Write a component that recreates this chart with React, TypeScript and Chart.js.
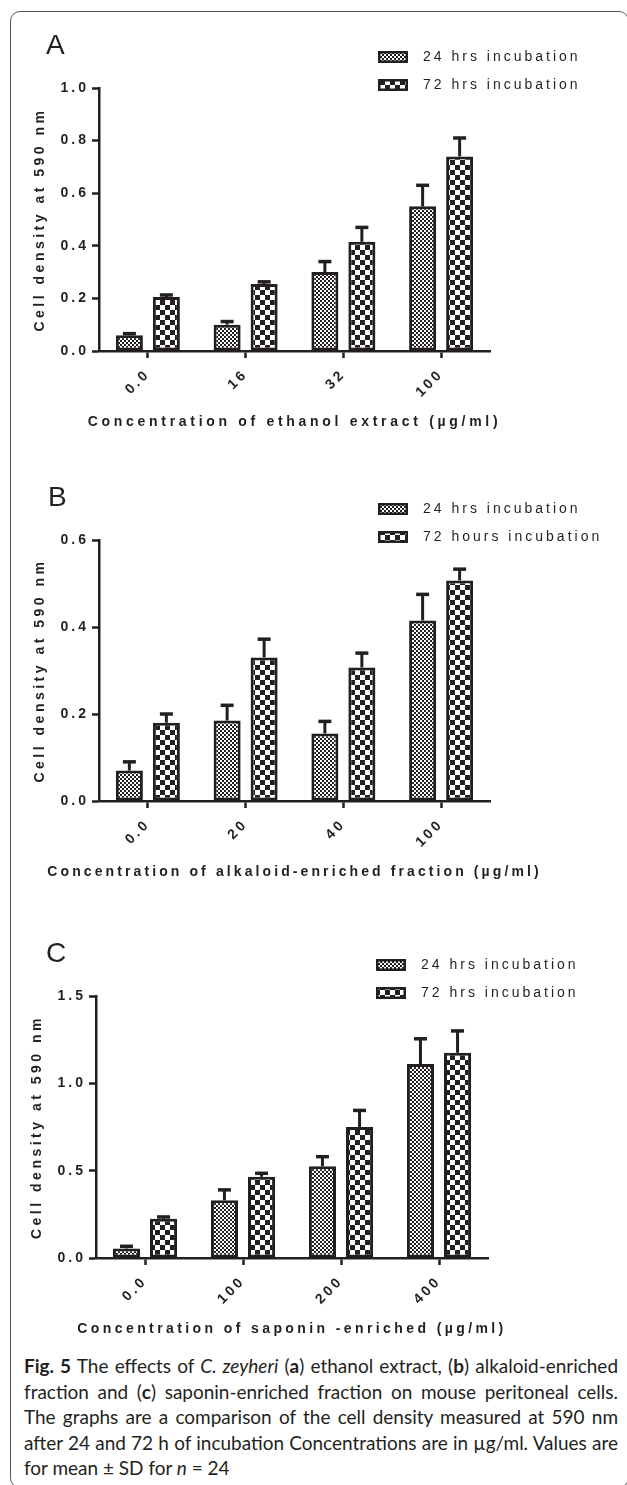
import React, { useEffect, useLayoutEffect, useRef } from 'react';
import { Chart, registerables } from 'chart.js';

Chart.register(...registerables);

// ---------- data ----------
// Panel A: ethanol extract
const catsA = ['0.0', '16', '32', '100'];
const a24 = [0.06, 0.10, 0.30, 0.55];
const a24sd = [0.006, 0.012, 0.04, 0.08];
const a72 = [0.205, 0.255, 0.415, 0.74];
const a72sd = [0.008, 0.008, 0.055, 0.07];
const legendA = ['24 hrs incubation', '72 hrs incubation'];
const yMaxA = 1.0;
const yStepA = 0.2;

// Panel B: alkaloid-enriched fraction
const catsB = ['0.0', '20', '40', '100'];
const b24 = [0.07, 0.185, 0.155, 0.415];
const b24sd = [0.02, 0.035, 0.028, 0.06];
const b72 = [0.18, 0.33, 0.307, 0.507];
const b72sd = [0.02, 0.042, 0.033, 0.026];
const legendB = ['24 hrs incubation', '72 hours incubation'];
const yMaxB = 0.6;
const yStepB = 0.2;

// Panel C: saponin-enriched fraction
const catsC = ['0.0', '100', '200', '400'];
const c24 = [0.055, 0.33, 0.525, 1.11];
const c24sd = [0.012, 0.06, 0.055, 0.145];
const c72 = [0.225, 0.465, 0.75, 1.175];
const c72sd = [0.01, 0.02, 0.095, 0.125];
const legendC = ['24 hrs incubation', '72 hrs incubation'];
const yMaxC = 1.5;
const yStepC = 0.5;

const yTitle = 'Cell density at 590 nm';
const xTitleA = 'Concentration of ethanol extract (\u00b5g/ml)';
const xTitleB = 'Concentration of alkaloid-enriched fraction (\u00b5g/ml)';
const xTitleC = 'Concentration of saponin -enriched (\u00b5g/ml)';

// ---------- style ----------
const W = 627;
const INK = '#231f20';
const FONT = '"Liberation Sans", Arial, Helvetica, sans-serif';

Chart.defaults.font.family = FONT;
Chart.defaults.font.size = 14;
Chart.defaults.color = INK;

function makePattern(ctx: CanvasRenderingContext2D, kind: 'fine' | 'coarse') {
  const n = kind === 'fine' ? 4 : 10;
  const h = n / 2;
  const t = document.createElement('canvas');
  t.width = n;
  t.height = n;
  const c = t.getContext('2d')!;
  c.fillStyle = '#ffffff';
  c.fillRect(0, 0, n, n);
  c.fillStyle = INK;
  c.fillRect(0, 0, h, h);
  c.fillRect(h, h, h, h);
  return ctx.createPattern(t, 'repeat');
}

const decorPlugin = {
  id: 'decor',
  beforeDraw(chart: any) {
    chart.ctx.letterSpacing = '3px';
  },
  afterDatasetsDraw(chart: any) {
    const ctx = chart.ctx;
    const ys = chart.scales.y;
    ctx.save();
    ctx.strokeStyle = INK;
    ctx.lineCap = 'butt';
    chart.data.datasets.forEach((ds: any, di: number) => {
      const meta = chart.getDatasetMeta(di);
      meta.data.forEach((bar: any, j: number) => {
        const v = ds.data[j];
        const e = ds.errors[j];
        const yTop = ys.getPixelForValue(v);
        const yErr = ys.getPixelForValue(v + e);
        ctx.lineWidth = 3;
        ctx.beginPath();
        ctx.moveTo(bar.x, yTop);
        ctx.lineTo(bar.x, yErr);
        ctx.stroke();
        ctx.lineWidth = 3.5;
        ctx.beginPath();
        ctx.moveTo(bar.x - 6.5, yErr);
        ctx.lineTo(bar.x + 6.5, yErr);
        ctx.stroke();
      });
    });
    ctx.restore();
  },
  afterDraw(chart: any, _args: any, opts: any) {
    const ctx = chart.ctx;
    const area = chart.chartArea;
    ctx.save();
    ctx.fillStyle = INK;

    // panel letter
    ctx.letterSpacing = '0px';
    ctx.font = `28px ${FONT}`;
    ctx.textAlign = 'left';
    ctx.textBaseline = 'alphabetic';
    ctx.fillText(opts.letter, opts.letterX, area.top - 34);

    // legend
    chart.data.datasets.forEach((ds: any, i: number) => {
      const cy = area.top - 31 + i * 28;
      const bw = 30;
      const bh = 12;
      const bx = opts.legendX;
      ctx.fillStyle = INK;
      ctx.fillRect(bx, cy - bh / 2, bw, bh);
      ctx.fillStyle = ds.backgroundColor;
      ctx.fillRect(bx + 2.5, cy - bh / 2 + 2.5, bw - 5, bh - 5);
      ctx.fillStyle = INK;
      ctx.font = `14px ${FONT}`;
      ctx.letterSpacing = '3px';
      ctx.textAlign = 'left';
      ctx.textBaseline = 'middle';
      ctx.fillText(ds.label, opts.legendTextX, cy);
    });

    // axis titles
    ctx.fillStyle = INK;
    ctx.font = `bold 14px ${FONT}`;
    ctx.letterSpacing = opts.titleSpacing + 'px';
    ctx.textAlign = 'center';
    ctx.textBaseline = 'middle';
    const xc = (area.left + area.right) / 2;
    ctx.fillText(opts.xTitle, xc, area.bottom + 71);
    ctx.letterSpacing = '3.5px';
    ctx.save();
    ctx.translate(opts.yTitleX, (area.top + area.bottom) / 2);
    ctx.rotate(-Math.PI / 2);
    ctx.fillText(opts.yTitle, 0, 0);
    ctx.restore();

    ctx.restore();
    ctx.letterSpacing = '0px';
  },
};

type PanelCfg = {
  letter: string;
  cats: string[];
  v24: number[];
  e24: number[];
  v72: number[];
  e72: number[];
  labels: string[];
  yMax: number;
  yStep: number;
  xTitle: string;
  titleSpacing: number;
  canvasTop: number;
  canvasH: number;
  plotTop: number;
  plotBottom: number;
  plotLeft: number;
  plotRight: number;
  yTitleX: number;
  letterX: number;
  legendX: number;
  legendTextX: number;
};

const panels: PanelCfg[] = [
  {
    letter: 'A', cats: catsA, v24: a24, e24: a24sd, v72: a72, e72: a72sd, labels: legendA,
    yMax: yMaxA, yStep: yStepA, xTitle: xTitleA, titleSpacing: 3.7,
    canvasTop: 0, canvasH: 450, plotTop: 88, plotBottom: 351, plotLeft: 99, plotRight: 490,
    yTitleX: 40, letterX: 46, legendX: 378, legendTextX: 423,
  },
  {
    letter: 'B', cats: catsB, v24: b24, e24: b24sd, v72: b72, e72: b72sd, labels: legendB,
    yMax: yMaxB, yStep: yStepB, xTitle: xTitleB, titleSpacing: 3.1,
    canvasTop: 450, canvasH: 455, plotTop: 540, plotBottom: 801, plotLeft: 99, plotRight: 490,
    yTitleX: 40, letterX: 48, legendX: 378, legendTextX: 423,
  },
  {
    letter: 'C', cats: catsC, v24: c24, e24: c24sd, v72: c72, e72: c72sd, labels: legendC,
    yMax: yMaxC, yStep: yStepC, xTitle: xTitleC, titleSpacing: 3.4,
    canvasTop: 905, canvasH: 440, plotTop: 996, plotBottom: 1258, plotLeft: 96, plotRight: 488,
    yTitleX: 37, letterX: 46, legendX: 376, legendTextX: 421,
  },
];

function Panel({ cfg }: { cfg: PanelCfg }) {
  const ref = useRef<HTMLCanvasElement>(null);
  useEffect(() => {
    const canvas = ref.current!;
    const ctx = canvas.getContext('2d')!;
    const fine = makePattern(ctx, 'fine');
    const coarse = makePattern(ctx, 'coarse');
    const barCommon = {
      borderColor: INK,
      borderWidth: 3,
      borderSkipped: false,
      categoryPercentage: 0.757,
      barPercentage: 0.73,
    };
    const tickGrid = {
      display: true,
      drawOnChartArea: false,
      drawTicks: true,
      tickLength: 7,
      tickWidth: 2.5,
      tickColor: INK,
      offset: false,
    };
    const chart = new Chart(ctx, {
      type: 'bar',
      data: {
        labels: cfg.cats,
        datasets: [
          { label: cfg.labels[0], data: cfg.v24, errors: cfg.e24, backgroundColor: fine, ...barCommon } as any,
          { label: cfg.labels[1], data: cfg.v72, errors: cfg.e72, backgroundColor: coarse, ...barCommon } as any,
        ],
      },
      options: {
        responsive: false,
        animation: false,
        devicePixelRatio: 1,
        events: [],
        layout: {
          autoPadding: false,
          padding: { left: 0, top: cfg.plotTop - cfg.canvasTop, right: W - cfg.plotRight, bottom: 0 },
        },
        plugins: {
          legend: { display: false },
          tooltip: { enabled: false },
          decor: {
            letter: cfg.letter,
            letterX: cfg.letterX,
            legendX: cfg.legendX,
            legendTextX: cfg.legendTextX,
            xTitle: cfg.xTitle,
            titleSpacing: cfg.titleSpacing,
            yTitle: yTitle,
            yTitleX: cfg.yTitleX,
          },
        } as any,
        scales: {
          x: {
            type: 'category',
            offset: true,
            z: 1,
            grid: tickGrid,
            border: { display: true, color: INK, width: 2.5 },
            ticks: {
              autoSkip: false,
              minRotation: 45,
              maxRotation: 45,
              padding: 8,
              color: INK,
              font: { size: 14, weight: 'bold', family: FONT },
            },
            afterFit: (s: any) => {
              s.height = cfg.canvasTop + cfg.canvasH - cfg.plotBottom;
            },
          },
          y: {
            min: 0,
            max: cfg.yMax,
            z: 1,
            grid: tickGrid,
            border: { display: true, color: INK, width: 2.5 },
            ticks: {
              stepSize: cfg.yStep,
              padding: 3,
              color: INK,
              font: { size: 14, weight: 'bold', family: FONT },
              callback: (v: any) => Number(v).toFixed(1),
            },
            afterFit: (s: any) => {
              s.width = cfg.plotLeft;
            },
          },
        } as any,
      },
      plugins: [decorPlugin as any],
    });
    return () => chart.destroy();
  }, [cfg]);
  return (
    <canvas
      ref={ref}
      width={W}
      height={cfg.canvasH}
      style={{ position: 'absolute', left: 0, top: cfg.canvasTop, width: W, height: cfg.canvasH }}
    />
  );
}

function Caption() {
  const ref = useRef<HTMLDivElement>(null);
  useLayoutEffect(() => {
    const el = ref.current;
    if (!el) return;
    const lines = Array.from(el.querySelectorAll('.ln')) as HTMLElement[];
    el.style.fontSize = '16px';
    lines.forEach((l) => { l.style.whiteSpace = 'nowrap'; l.style.textAlignLast = 'auto'; });
    let maxW = 0;
    lines.slice(0, 4).forEach((l) => {
      const sp = l.firstElementChild as HTMLElement;
      maxW = Math.max(maxW, sp.getBoundingClientRect().width);
    });
    if (maxW > 0) el.style.fontSize = (16 * 590) / maxW + 'px';
    lines.forEach((l, i) => {
      l.style.whiteSpace = 'normal';
      l.style.textAlignLast = i < 4 ? 'justify' : 'auto';
    });
  }, []);
  return (
    <div
      ref={ref}
      style={{
        position: 'absolute',
        left: 24,
        top: 1353,
        width: 594,
        fontFamily: 'Lato, "Open Sans", sans-serif',
        color: INK,
        lineHeight: '25.5px',
        fontSize: 16,
      }}
    >
      <div className="ln"><span><b>Fig. 5</b> The effects of <i>C. zeyheri</i> (<b>a</b>) ethanol extract, (<b>b</b>) alkaloid-enriched</span></div>
      <div className="ln"><span>fraction and (<b>c</b>) saponin-enriched fraction on mouse peritoneal cells.</span></div>
      <div className="ln"><span>The graphs are a comparison of the cell density measured at 590 nm</span></div>
      <div className="ln"><span>after 24 and 72 h of incubation Concentrations are in {'\u00b5'}g/ml. Values are</span></div>
      <div className="ln"><span>for mean {'\u00b1'} SD for <i>n</i> = 24</span></div>
    </div>
  );
}

export default function App() {
  return (
    <div style={{ position: 'absolute', left: 0, top: 0, width: W, height: 1485, overflow: 'hidden', background: '#fff' }}>
      <div
        style={{
          position: 'absolute',
          left: 10,
          top: 11,
          width: 619,
          height: 1477,
          border: '1.5px solid #555',
          borderRadius: 10,
          boxSizing: 'border-box',
        }}
      />
      {panels.map((p) => (
        <Panel key={p.letter} cfg={p} />
      ))}
      <Caption />
    </div>
  );
}
